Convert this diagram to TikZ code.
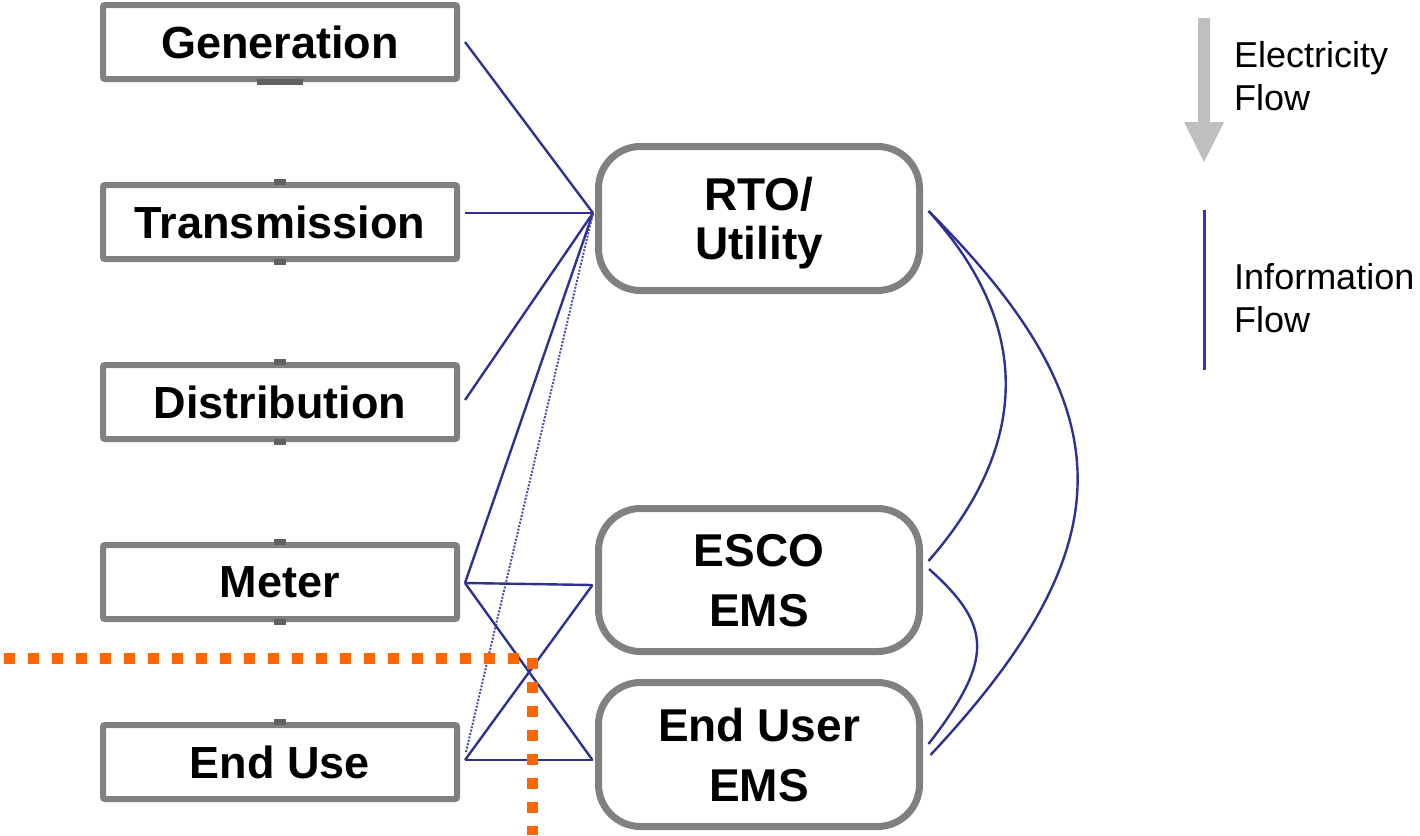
\documentclass[tikz,border=0pt]{standalone}
\usepackage{fontspec}
\setmainfont{Liberation Sans}
\usetikzlibrary{calc,backgrounds}
\definecolor{boxgrey}{HTML}{808080}
\definecolor{tabgrey}{HTML}{606060}
\definecolor{infoblue}{HTML}{2E3192}
\definecolor{legblue}{HTML}{3333BB}
\definecolor{elecgrey}{HTML}{BFBFBF}
\definecolor{dotorange}{HTML}{FF6600}
\begin{document}
\begin{tikzpicture}[x=1pt,y=-1pt,
  stage/.style={draw=boxgrey, line width=6pt, rounded corners=2pt, fill=white,
    minimum width=354pt, minimum height=74pt, inner sep=0pt,
    font=\fontsize{45}{54}\selectfont\bfseries},
  actor/.style={draw=boxgrey, line width=7pt, rounded corners=42pt, fill=white,
    minimum width=321pt, inner sep=0pt, align=center, text depth=0pt},
  tab/.style={fill=tabgrey},
  info/.style={draw=infoblue, line width=2.4pt},
  infodot/.style={draw=infoblue!85, line width=2pt, dash pattern=on 2pt off 1.5pt},
  legtext/.style={inner sep=0pt, align=left, anchor=west, font=\fontsize{36}{43}\selectfont},
  orangedots/.style={draw=dotorange, line width=11pt, dash pattern=on 11pt off 13pt}
]
\useasboundingbox (0,0) rectangle (1420,835);

% left stages
\node[stage] (gen)   at (280,42)  {Generation};
\node[stage] (trans) at (280,222) {Transmission};
\node[stage] (dist)  at (280,402) {Distribution};
\node[stage] (meter) at (280,582) {Meter};
\node[stage] (enduse) at (280,762) {End Use};

% tabs
\fill[tab] ($(gen.south)+(-23,-3)$) rectangle ($(gen.south)+(23,3)$);
\foreach \n in {trans,dist,meter,enduse}{
  \fill[tab] ($(\n.north)+(-6,-3)$) rectangle ($(\n.north)+(6,3)$);
}
\foreach \n in {trans,dist,meter}{
  \fill[tab] ($(\n.south)+(-6,-3)$) rectangle ($(\n.south)+(6,3)$);
}

% right actors
\node[actor, minimum height=144pt, font=\fontsize{46}{49}\selectfont\bfseries] (rto) at (759,218.5) {RTO/\\Utility};
\node[actor, minimum height=143pt, font=\fontsize{46}{60}\selectfont\bfseries] (esco) at (759,580) {ESCO\\EMS};
\node[actor, minimum height=144pt, font=\fontsize{46}{60}\selectfont\bfseries] (euems) at (759,754.5) {End User\\EMS};

% connection points
\coordinate (rtoin)  at ($(rto.west)+(-2,-5.5)$);
\coordinate (rtoout) at ($(rto.east)+(5.5,-7.5)$);
\coordinate (escoin) at ($(esco.west)+(-2.5,5)$);
\coordinate (escoa)  at ($(esco.east)+(5.5,-19)$);
\coordinate (escob)  at ($(esco.east)+(6,-11)$);
\coordinate (euin)   at ($(euems.west)+(-2.5,5.5)$);
\coordinate (eua)    at ($(euems.east)+(5.5,-10.5)$);
\coordinate (eub)    at ($(euems.east)+(7.5,0.5)$);
\coordinate (genout) at ($(gen.east)+(5,0)$);
\coordinate (transout) at ($(trans.east)+(5,-9)$);
\coordinate (distout) at ($(dist.east)+(5,-2)$);
\coordinate (meterout) at ($(meter.east)+(5,1)$);
\coordinate (enduseout) at ($(enduse.east)+(5,-2)$);
\coordinate (endusedot) at ($(enduse.east)+(6,-10)$);

\begin{pgfonlayer}{background}
\draw[info] (genout) -- (rtoin);
\draw[info] (transout) -- (rtoin);
\draw[info] (distout) -- (rtoin);
\draw[info] (meterout) -- (rtoin);
\draw[infodot] (endusedot) -- (rtoin);
\draw[info] (meterout) -- (escoin);
\draw[info] (meterout) -- (euin);
\draw[info] (enduseout) -- (escoin);
\draw[info] (enduseout) -- (euin);
\draw[info] (rtoout) .. controls +(103,113) and +(103,-118) .. (escoa);
\draw[info] (rtoout) .. controls +(198,198) and +(197,-211) .. (eub);
\draw[info] (escob) .. controls +(64,57) and +(65,-84) .. (eua);
\end{pgfonlayer}

% legend
\fill[elecgrey] (1198,18) -- (1210,18) -- (1210,122) -- (1224,122) -- (1204,162) -- (1184,122) -- (1198,122) -- cycle;
\node[legtext] (eleclbl) at (1234,76) {Electricity\\Flow};
\draw[legblue, line width=3pt] (1204,210) -- (1204,370);
\node[legtext] (infolbl) at (1234,298) {Information\\Flow};

% orange boundary
\draw[orangedots] (4,658) -- (520,658);
\draw[orangedots] (532,658) -- (532,835);
\end{tikzpicture}
\end{document}
